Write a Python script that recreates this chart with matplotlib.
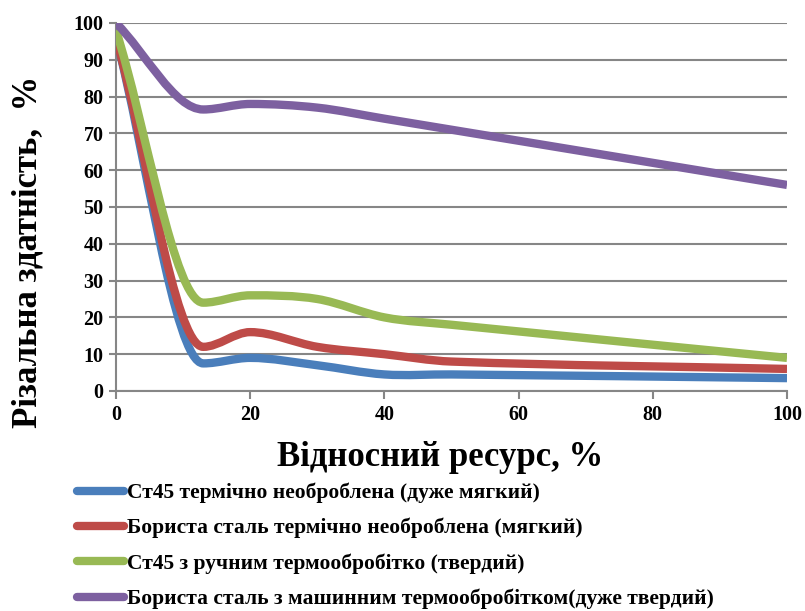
import matplotlib
matplotlib.use("Agg")
import matplotlib.pyplot as plt
from matplotlib.path import Path
from matplotlib.patches import PathPatch
from matplotlib.lines import Line2D

# --- дані --- #
x = [0, 13, 20, 30, 40, 50, 100]
st45_raw = [96, 7.5, 9, 7, 4.5, 4.5, 3.5]
boron_raw = [96, 12, 16, 12, 10, 8, 6]
st45_hand = [98, 24, 26, 25, 20, 18, 9]
boron_machine = [100, 76.5, 78, 77, 74, 71, 56]

labels = ["Ст45 термічно необроблена (дуже мягкий)",
          "Бориста сталь термічно необроблена (мягкий)",
          "Ст45 з ручним термообробітко (твердий)",
          "Бориста сталь з машинним термообробітком(дуже твердий)"]
colors = ["#4A7EBB", "#BE4B48", "#98B954", "#7D60A0"]
series = [st45_raw, boron_raw, st45_hand, boron_machine]

xticks = [0, 20, 40, 60, 80, 100]
yticks = [0, 10, 20, 30, 40, 50, 60, 70, 80, 90, 100]


def smooth_path(xs, ys):
    # згладжена лінія: кубічні Безьє, нахил нульовий у локальних екстремумах
    n = len(xs)
    m = []
    for i in range(n):
        if i == 0:
            m.append((ys[1] - ys[0]) / (xs[1] - xs[0]))
        elif i == n - 1:
            m.append((ys[i] - ys[i - 1]) / (xs[i] - xs[i - 1]))
        elif (ys[i] - ys[i - 1]) * (ys[i + 1] - ys[i]) < 0:
            m.append(0.0)
        else:
            m.append((ys[i + 1] - ys[i - 1]) / (xs[i + 1] - xs[i - 1]))
    verts = [(xs[0], ys[0])]
    codes = [Path.MOVETO]
    for i in range(n - 1):
        h = xs[i + 1] - xs[i]
        verts += [(xs[i] + h / 3, ys[i] + m[i] * h / 3),
                  (xs[i + 1] - h / 3, ys[i + 1] - m[i + 1] * h / 3),
                  (xs[i + 1], ys[i + 1])]
        codes += [Path.CURVE4] * 3
    return Path(verts, codes)


fig = plt.figure(figsize=(8.05, 6.11), dpi=100)
ax = fig.add_axes([116 / 805, 1 - 391 / 611, (787 - 116) / 805, (391 - 23) / 611])

for ys, c in zip(series, colors):
    patch = PathPatch(smooth_path(x, ys), facecolor="none", edgecolor=c,
                      lw=6, capstyle="butt", joinstyle="round", zorder=3)
    ax.add_patch(patch)

ax.set_xlim(0, 100)
ax.set_ylim(0, 100)
ax.set_xticks(xticks)
ax.set_yticks(yticks)
ax.grid(axis="y", color="#868686", lw=1.5)
ax.set_axisbelow(True)
for s in ["top", "right"]:
    ax.spines[s].set_visible(False)
for s in ["left", "bottom"]:
    ax.spines[s].set_color("#868686")
    ax.spines[s].set_linewidth(1.5)
ax.tick_params(axis="x", direction="out", length=6, width=1.5, color="#868686", pad=4)
ax.tick_params(axis="y", direction="out", length=5, width=1.5, color="#868686", pad=4)
for t in ax.get_xticklabels() + ax.get_yticklabels():
    t.set_fontfamily("Liberation Serif")
    t.set_fontweight("bold")
    t.set_fontsize(14.5)

ax.set_ylabel("Різальна здатність,  %", family="Liberation Serif",
              fontweight="bold", fontsize=25)
ax.yaxis.set_label_coords(-0.106, 0.378)

fig.text(440 / 805, 1 - 457 / 611, "Відносний ресурс, %",
         family="Liberation Serif",
         fontweight="bold", fontsize=25, ha="center", va="center")

handles = [Line2D([], [], color=c, lw=6, solid_capstyle="round") for c in colors]
fig.legend(handles, labels, loc="upper left",
           bbox_to_anchor=(68 / 805, 1 - 474 / 611), frameon=False,
           prop={"family": "Liberation Serif", "weight": "bold", "size": 15.5},
           handlelength=2.2, handletextpad=0.12, labelspacing=0.69,
           borderaxespad=0)

fig.savefig("out.png", dpi=100)
